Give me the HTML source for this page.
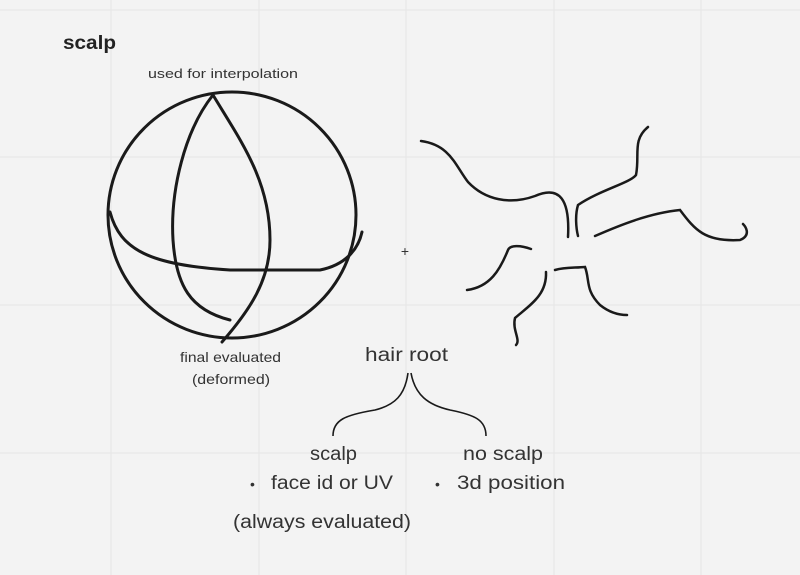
<!DOCTYPE html>
<html><head><meta charset="utf-8"><style>
html,body{margin:0;padding:0;background:#f3f3f3;}
svg{display:block;font-family:"Liberation Sans",sans-serif;}
</style></head><body>
<svg width="800" height="575" viewBox="0 0 800 575">
<g stroke="#e6e6e6" stroke-width="1">
<line x1="111" y1="0" x2="111" y2="575"/><line x1="259" y1="0" x2="259" y2="575"/>
<line x1="406" y1="0" x2="406" y2="575"/><line x1="554" y1="0" x2="554" y2="575"/>
<line x1="701" y1="0" x2="701" y2="575"/>
<line x1="0" y1="10" x2="800" y2="10"/><line x1="0" y1="157" x2="800" y2="157"/>
<line x1="0" y1="305" x2="800" y2="305"/><line x1="0" y1="453" x2="800" y2="453"/>
</g>
<text x="63" y="49" font-size="19" font-weight="bold" fill="#222" textLength="53" lengthAdjust="spacingAndGlyphs">scalp</text>
<text x="148" y="78" font-size="13" fill="#333" textLength="150" lengthAdjust="spacingAndGlyphs">used for interpolation</text>
<g fill="none" stroke="#1a1a1a" stroke-width="3" stroke-linecap="round">
<ellipse cx="232" cy="215" rx="124" ry="123"/>
<path d="M213 95 C185 130 170 190 173 240 C176 285 190 310 230 320"/>
<path d="M213 95 C240 140 270 180 270 240 C270 280 250 310 222 342"/>
<path d="M110 212 C120 250 150 265 230 270 L320 270 C345 265 358 250 362 232"/>
</g>
<text x="405" y="256" font-size="14" fill="#333" text-anchor="middle">+</text>
<g fill="none" stroke="#1a1a1a" stroke-width="2.5" stroke-linecap="round">
<path d="M421 141 C450 145 455 165 468 182 C485 200 510 205 535 196 C560 185 570 200 568 237"/>
<path d="M648 127 C632 140 640 155 636 175 C630 183 600 190 578 205 C575 215 576 228 578 236"/>
<path d="M595 236 C620 225 650 213 680 210 C695 230 705 242 740 240 C752 235 745 226 743 224"/>
<path d="M467 290 C490 287 500 270 508 250 C510 245 520 245 531 249"/>
<path d="M546 272 C547 295 530 305 515 318 C512 330 521 340 516 345"/>
<path d="M555 270 C565 267 575 268 585 267 C590 280 585 290 600 305 C610 313 620 315 627 315"/>
</g>
<text x="180" y="362" font-size="14" fill="#333" textLength="101" lengthAdjust="spacingAndGlyphs">final evaluated</text>
<text x="192" y="384" font-size="14" fill="#333" textLength="78" lengthAdjust="spacingAndGlyphs">(deformed)</text>
<text x="365" y="361" font-size="19" fill="#333" textLength="83" lengthAdjust="spacingAndGlyphs">hair root</text>
<g fill="none" stroke="#1a1a1a" stroke-width="1.6">
<path d="M408 373 C405 395 395 405 375 410 C345 415 333 420 333 436"/>
<path d="M411 373 C415 395 428 405 450 410 C475 415 486 420 486 436"/>
</g>
<text x="310" y="460" font-size="19" fill="#333" textLength="47" lengthAdjust="spacingAndGlyphs">scalp</text>
<text x="463" y="460" font-size="19" fill="#333" textLength="80" lengthAdjust="spacingAndGlyphs">no scalp</text>
<text x="250" y="489" font-size="14" fill="#333">•</text>
<text x="271" y="489" font-size="19" fill="#333" textLength="122" lengthAdjust="spacingAndGlyphs">face id or UV</text>
<text x="435" y="489" font-size="14" fill="#333">•</text>
<text x="457" y="489" font-size="19" fill="#333" textLength="108" lengthAdjust="spacingAndGlyphs">3d position</text>
<text x="233" y="528" font-size="19" fill="#333" textLength="178" lengthAdjust="spacingAndGlyphs">(always evaluated)</text>
</svg>
</body></html>
